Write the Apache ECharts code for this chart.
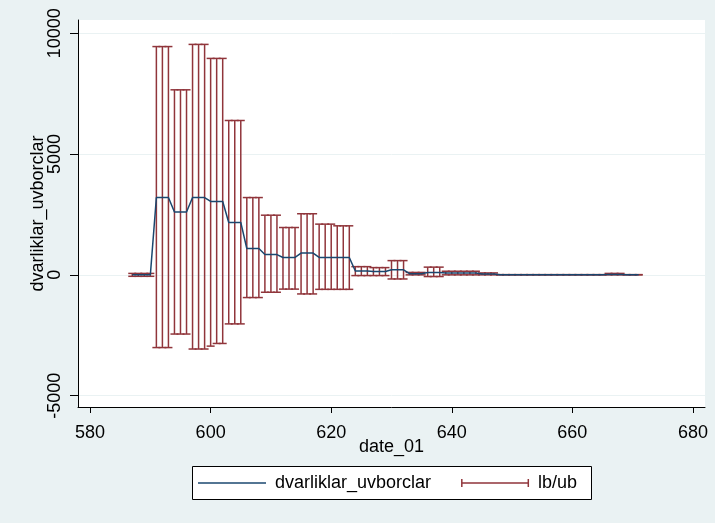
<!DOCTYPE html>
<html>
<head>
<meta charset="utf-8">
<script src="https://cdn.jsdelivr.net/npm/echarts@6/dist/echarts.min.js"></script>
</head>
<body style="margin:0;background:#eaf2f3">
<div id="container" style="width:715px;height:523px"></div>
<script>
// monthly date index, lower bound, upper bound, point value
var dates = [587, 588, 589, 590, 591, 592, 593, 594, 595, 596, 597, 598, 599, 600, 601, 602,
    603, 604, 605, 606, 607, 608, 609, 610, 611, 612, 613, 614, 615, 616, 617, 618, 619, 620,
    621, 622, 623, 624, 625, 626, 627, 628, 629, 630, 631, 632, 633, 634, 635, 636, 637, 638,
    639, 640, 641, 642, 643, 644, 645, 646, 647, 648, 649, 650, 651, 652, 653, 654, 655, 656,
    657, 658, 659, 660, 661, 662, 663, 664, 665, 666, 667, 668, 669, 670, 671];
var lb = [-60, -60, -60, -60, -3010, -3010, -3010, -2450, -2450, -2450, -3070, -3070, -3070,
    -2950, -2840, -2840, -2030, -2030, -2030, -940, -940, -940, -720, -720, -720, -590, -590, -590,
    -790, -790, -790, -600, -600, -600, -600, -600, -600, -30, -30, -30, -30, -30, -30,
    -170, -170, -170, 0, 0, 0, -70, -70, -70, 0, 0, 0, 0, 0, 0, 0, 0, 0,
    0, 0, 0, 0, 0, 0, 0, 0, 0, 0, 0, 0, 0, 0, 0, 0, 0, 0, 0, 0, 0, 0, 0, 0];
var ub = [60, 60, 60, 60, 9450, 9450, 9450, 7660, 7660, 7660, 9540, 9540, 9540,
    8960, 8960, 8960, 6390, 6390, 6390, 3200, 3200, 3200, 2470, 2470, 2470, 1960, 1960, 1960,
    2530, 2530, 2530, 2100, 2100, 2100, 2030, 2030, 2030, 340, 340, 340, 300, 300, 300,
    590, 590, 590, 100, 100, 100, 320, 320, 320, 150, 150, 150, 150, 150, 150, 80, 80, 80,
    10, 10, 10, 10, 10, 10, 10, 10, 10, 10, 10, 10, 10, 10, 10, 10, 10, 10, 60, 60, 60, 10, 10, 10];
var vals = [0, 0, 0, 0, 3200, 3200, 3200, 2600, 2600, 2600, 3200, 3200, 3200,
    3040, 3040, 3040, 2170, 2170, 2170, 1090, 1090, 1090, 840, 840, 840, 720, 720, 720,
    900, 900, 900, 720, 720, 720, 720, 720, 720, 160, 160, 160, 140, 140, 140,
    210, 210, 210, 50, 50, 50, 100, 100, 100, 80, 80, 80, 80, 80, 80, 40, 40, 40,
    0, 0, 0, 0, 0, 0, 0, 0, 0, 0, 0, 0, 0, 0, 0, 0, 0, 0, 20, 20, 20, 0, 0, 0];
var xTicks = [580, 600, 620, 640, 660, 680];
var yTicks = [-5000, 0, 5000, 10000];

var navy = '#1a476f';
var maroon = '#90353b';
var font = 'Liberation Sans, Arial, sans-serif';

var lineData = [];
var barData = [];
for (var i = 0; i < dates.length; i++) {
    lineData.push([dates[i], vals[i]]);
    barData.push([dates[i], lb[i], ub[i]]);
}

var myChart = echarts.init(document.getElementById('container'));
var option = {
    backgroundColor: '#eaf2f3',
    animation: false,
    textStyle: { fontFamily: font },
    grid: {
        left: 78, right: 10, top: 20, bottom: 116,
        show: true, backgroundColor: '#fff', borderWidth: 0
    },
    graphic: [{
        type: 'rect',
        left: 192, top: 466,
        shape: { width: 399, height: 33 },
        style: { fill: '#fff', stroke: '#000', lineWidth: 1 },
        z: -1
    }],
    legend: {
        left: 198, top: 474,
        padding: 0,
        itemGap: 30,
        itemWidth: 68,
        itemHeight: 8,
        textStyle: { fontSize: 18, color: '#000', fontFamily: font, padding: [0, 0, 0, 4] },
        data: [
            { name: 'dvarliklar_uvborclar', icon: 'path://M0,3.25h68v1.5h-68z' },
            { name: 'lb/ub', icon: 'path://M0,0h1.5v8h-1.5zM0,3.25h68v1.5h-68zM66.5,0h1.5v8h-1.5z' }
        ]
    },
    xAxis: {
        type: 'value',
        min: 578, max: 682,
        minInterval: 20, maxInterval: 20,
        name: 'date_01',
        nameLocation: 'middle',
        nameMoveOverlap: false,
        nameGap: 31,
        nameTextStyle: { fontSize: 18, color: '#000' },
        axisLine: { onZero: false, lineStyle: { color: '#000', width: 1 } },
        axisTick: { customValues: xTicks, length: 6, lineStyle: { color: '#000' } },
        axisLabel: { customValues: xTicks, fontSize: 18, color: '#000', margin: 17 },
        splitLine: { show: false }
    },
    yAxis: {
        type: 'value',
        min: -5470, max: 10550,
        minInterval: 5000, maxInterval: 5000,
        name: 'dvarliklar_uvborclar',
        nameLocation: 'middle',
        nameMoveOverlap: false,
        nameRotate: 90,
        nameGap: 31,
        nameTextStyle: { fontSize: 18, color: '#000' },
        axisLine: { show: true, onZero: false, lineStyle: { color: '#000', width: 1 } },
        axisTick: { show: true, customValues: yTicks, length: 8, lineStyle: { color: '#000' } },
        axisLabel: {
            customValues: yTicks, rotate: 90, fontSize: 18, color: '#000', margin: 14,
            formatter: function (v) { return String(v); }
        },
        splitLine: { show: true, lineStyle: { color: '#eaf2f3', width: 1 } }
    },
    series: [{
        name: 'dvarliklar_uvborclar',
        type: 'line',
        symbol: 'none',
        data: lineData,
        itemStyle: { color: navy },
        lineStyle: { color: navy, width: 1.5 }
    }, {
        name: 'lb/ub',
        type: 'custom',
        itemStyle: { color: maroon },
        encode: { x: 0, y: [1, 2] },
        data: barData,
        renderItem: function (params, api) {
            var x = api.value(0);
            var top = api.coord([x, api.value(2)]);
            var bot = api.coord([x, api.value(1)]);
            var w = 4;
            var style = { stroke: maroon, lineWidth: 1.5, fill: null };
            return {
                type: 'group',
                children: [
                    { type: 'line', shape: { x1: top[0], y1: top[1], x2: bot[0], y2: bot[1] }, style: style },
                    { type: 'line', shape: { x1: top[0] - w, y1: top[1], x2: top[0] + w, y2: top[1] }, style: style },
                    { type: 'line', shape: { x1: bot[0] - w, y1: bot[1], x2: bot[0] + w, y2: bot[1] }, style: style }
                ]
            };
        }
    }]
};
myChart.setOption(option);
</script>
</body>
</html>
